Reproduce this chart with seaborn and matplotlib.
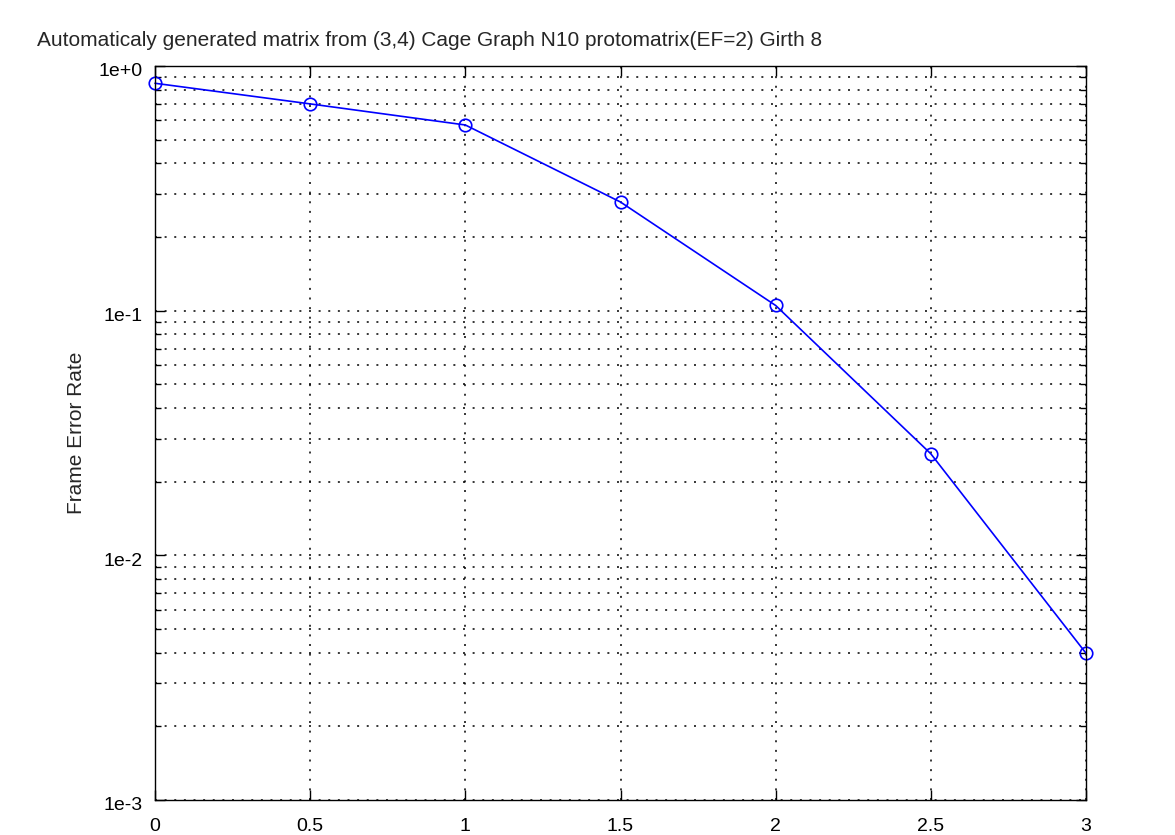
import matplotlib
matplotlib.use("Agg")
import matplotlib.pyplot as plt
import matplotlib.ticker as mticker
import matplotlib.transforms as mtransforms
import seaborn as sns
import pandas as pd
import numpy as np

snr = [0, 0.5, 1, 1.5, 2, 2.5, 3]
fer = [0.85, 0.70, 0.574, 0.278, 0.105, 0.0260, 0.00398]
xticks = [0, 0.5, 1, 1.5, 2, 2.5, 3]
xticklabels = ["0", "0.5", "1", "1.5", "2", "2.5", "3"]
yticks = [1e-3, 1e-2, 1e-1, 1e0]
yticklabels = ["1e-3", "1e-2", "1e-1", "1e+0"]
title = "Automaticaly generated matrix from (3,4) Cage Graph N10 protomatrix(EF=2) Girth 8"

sns.set_style("white")
plt.rcParams['font.family'] = ['Liberation Sans', 'DejaVu Sans']

df = pd.DataFrame({"snr": snr, "fer": fer})

fig = plt.figure(figsize=(11.75, 8.35), dpi=100)
ax = fig.add_axes([155/1175, 35/835, (1086-155)/1175, (800-66)/835])

sns.lineplot(data=df, x="snr", y="fer", ax=ax, color="#0000ff", linewidth=1.2,
             marker="o", markersize=9, markerfacecolor="none",
             markeredgecolor="#0000ff", markeredgewidth=1.2, clip_on=False)

ax.set_yscale("log")
ax.set_xlim(0, 3)
ax.set_ylim(1e-3, 1e0)
ax.set_xticks(xticks)
ax.set_xticklabels(xticklabels)
ax.set_yticks(yticks)
ax.set_yticklabels(yticklabels)
ax.yaxis.set_minor_locator(mticker.LogLocator(base=10, subs=np.arange(2, 10)))
ax.yaxis.set_minor_formatter(mticker.NullFormatter())

grid_ls = (0, (1.3, 5.0))
ax.grid(True, which="major", axis="both", color="black", linestyle=grid_ls, linewidth=1.1)
ax.grid(True, which="minor", axis="y", color="black", linestyle=grid_ls, linewidth=1.1)

for s in ax.spines.values():
    s.set_visible(True)
    s.set_color("black")
    s.set_linewidth(1.0)

ax.tick_params(which="both", direction="in", top=True, right=True, bottom=True, left=True,
               colors="black", labelsize=14)
ax.tick_params(which="major", length=7, width=1)
ax.tick_params(which="minor", length=4, width=1)
ax.tick_params(axis="x", pad=13)
ax.tick_params(axis="y", pad=9)

offset = mtransforms.ScaledTranslation(0, -4/100, fig.dpi_scale_trans)
for lbl in ax.get_yticklabels():
    lbl.set_transform(lbl.get_transform() + offset)

ax.set_xlabel("")
ax.set_ylabel("Frame Error Rate", fontsize=15, labelpad=9)

fig.text(37/1175, 1 - 40/835, title, fontsize=15, ha="left", va="center")

fig.savefig("out.png", dpi=100, facecolor="white")
